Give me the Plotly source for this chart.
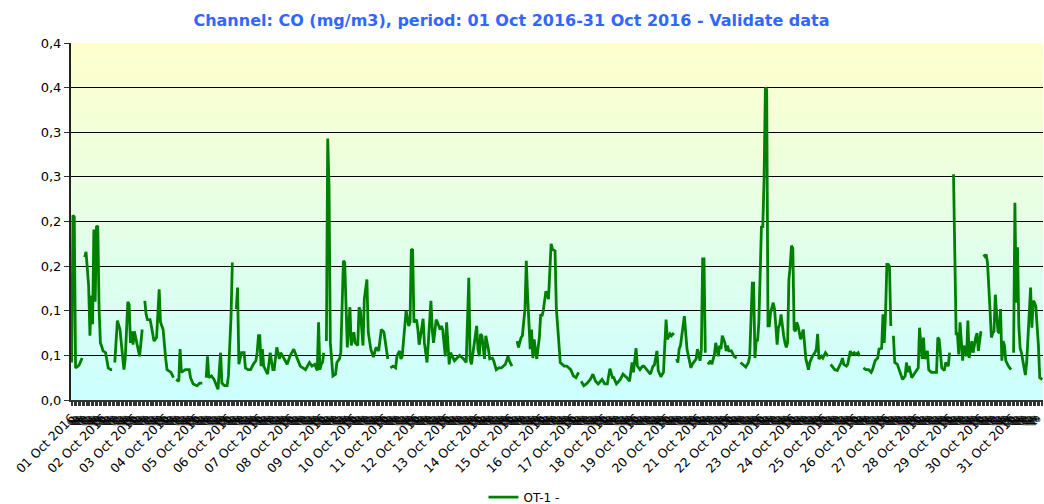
import plotly.graph_objects as go

# ---- data (hour index from 01 Oct 2016 00:00, CO in mg/m3; None = missing) ----
hours = [0, 1, 2, 3, 5, 6, 8, 9,
         10, 11, 13, 14, 15, 16, 17, 18, 19, 20, 21, 22, 23, 24, 26, 28, 30, 31, 32,
         33, 35, 37, 40, 41, 43, 44, 45, 46, 47, 48, 50, 52, 54, 55,
         56, 57, 58, 60, 61, 63, 65, 67, 68, 70, 72, 73, 76, 78, 79,
         80, 82, 83, 84, 87, 90, 91, 93, 96, 98, 100, 101,
         103, 104, 105, 107, 109, 110, 112, 114, 115, 117, 119, 120, 122, 123, 124,
         126, 127, 128, 130, 132, 133, 135, 137, 139, 141, 142, 143,
         144, 145, 146, 147, 150, 152, 154, 155, 157, 159, 160, 163, 165, 167, 170,
         172, 175, 177, 179, 182, 184, 186, 188, 189, 190, 191, 192, 193, 194,
         195, 196, 197, 198, 200, 202, 203, 205, 206, 208, 209, 210, 211, 213, 214,
         216, 217, 219, 220, 221, 223, 224, 226, 227, 229, 231, 233, 235, 237, 239,
         240, 242, 243,
         244, 246, 248, 249, 251, 252, 253, 255, 256, 258, 259, 260, 261, 262, 264,
         265, 266, 268, 269, 270, 272, 273, 275, 276, 277, 279, 280, 282, 283, 284,
         286, 287, 289, 290, 293, 295, 297, 300, 302, 304, 305, 306, 308, 310, 311,
         312, 313, 314, 316, 317, 319, 320, 322, 323, 325, 327, 329, 332, 334, 335,
         337, 338,
         341, 342, 344, 345, 347, 348, 349, 351, 352, 353, 354, 355, 356, 358, 359,
         360, 361, 363, 365, 367, 368, 370, 371, 372, 374, 377, 379, 382, 384, 386,
         388, 389,
         390, 392, 394, 397, 399, 401, 403, 406, 408, 410, 412, 414, 415, 417, 420,
         422, 425, 427, 429, 430, 432, 433, 435, 437, 438, 440,
         443, 445, 446, 448, 449, 451, 453, 454, 455, 456, 458, 459, 461, 462,
         463, 464, 465, 466, 468, 469, 471, 472, 474, 475, 478, 479, 481, 482, 483,
         484, 485, 486,
         487, 489, 490, 492, 493, 495, 496, 497, 498, 500, 501, 502, 503, 505, 507,
         509, 510,
         512, 514, 516, 518, 519, 521, 522, 523, 524, 525, 526, 528, 529, 530, 531,
         532, 533, 534, 535, 537, 538, 539, 540, 541, 542, 543, 544, 545, 546, 547,
         548, 549, 550, 551, 552, 553, 554, 555, 556, 557, 558, 560, 561, 562, 564,
         565, 567, 569, 570, 571, 572, 574, 575, 577, 579, 580,
         581, 584, 586, 589, 590, 591, 593, 594, 596, 597, 599, 600, 602, 603, 604,
         606, 608, 610, 612, 613, 615, 617, 618, 620, 621, 622, 623, 624, 625, 626,
         627, 628,
         629, 630, 632, 633, 635, 636, 638, 639, 640, 641, 643, 645, 646, 648, 649,
         651, 652, 653, 655, 656, 658, 660, 662, 663, 664, 666, 668, 669, 671, 672,
         673,
         675, 677, 678, 679, 680, 682, 683, 685, 686, 687, 689, 690, 692, 693, 694,
         696, 697,
         698, 699, 700, 701, 703, 704, 705, 706, 707, 709, 710, 711, 712, 713, 714,
         715, 717, 719, 720,
         721, 722, 723, 724, 725, 726, 727, 729, 730, 731, 733, 734, 735, 736, 737,
         738, 740, 741, 743]

co = [0.042, 0.207, 0.205, 0.036, 0.038, 0.040, 0.047, None,
      0.160, 0.166, 0.128, 0.072, 0.117, 0.085, 0.191, 0.110, 0.194, 0.195, 0.102, 0.064, 0.060, 0.055, 0.053, 0.036, 0.034, 0.034, None,
      0.042, 0.089, 0.079, 0.034, 0.046, 0.110, 0.107, 0.064, 0.077, 0.062, 0.077, 0.061, 0.049, 0.079, None,
      0.111, 0.096, 0.090, 0.090, 0.083, 0.066, 0.070, 0.124, 0.087, 0.079, 0.046, 0.034, 0.031, 0.025, None,
      0.023, 0.021, 0.057, 0.031, 0.034, 0.034, 0.025, 0.018, 0.016, 0.019, 0.019, None,
      0.025, 0.049, 0.025, 0.027, 0.023, 0.019, 0.012, 0.053, 0.019, 0.016, 0.016, 0.027, 0.094, 0.154, None,
      0.102, 0.126, 0.040, 0.053, 0.053, 0.036, 0.034, 0.034, 0.040, 0.044, 0.053, 0.072,
      0.072, 0.038, 0.057, 0.038, 0.029, 0.053, 0.034, 0.034, 0.059, 0.046, 0.053, 0.046, 0.040, 0.049, 0.057,
      0.049, 0.038, 0.036, 0.034, 0.042, 0.038, 0.040, 0.033, 0.087, 0.034, 0.040, 0.042, 0.053, None,
      0.066, 0.293, 0.240, 0.064, 0.027, 0.029, 0.042, 0.046, 0.053, 0.156, 0.154, 0.094, 0.059, 0.104, 0.061,
      0.076, 0.064, 0.061, 0.104, 0.100, 0.061, 0.113, 0.135, 0.076, 0.057, 0.048, 0.059, 0.055, 0.079, 0.076,
      0.064, 0.046, None,
      0.036, 0.038, 0.036, 0.049, 0.055, 0.046, 0.049, 0.090, 0.100, 0.083, 0.087, 0.169, 0.168, 0.087, 0.090,
      0.079, 0.062, 0.081, 0.091, 0.064, 0.042, 0.064, 0.111, 0.079, 0.064, 0.090, 0.087, 0.079, 0.083, 0.079,
      0.049, 0.087, 0.040, 0.053, 0.044, 0.047, 0.050, 0.046, 0.042, 0.137, 0.046, 0.040, 0.059, 0.083, 0.057,
      0.049, 0.074, 0.072, 0.046, 0.072, 0.057, 0.046, 0.047, 0.044, 0.034, 0.036, 0.036, 0.040, 0.049, 0.044,
      0.038, None,
      0.066, 0.059, 0.070, 0.072, 0.102, 0.156, 0.117, 0.057, 0.079, 0.047, 0.068, 0.055, 0.046, 0.070, 0.096,
      0.094, 0.100, 0.122, 0.113, 0.175, 0.169, 0.167, 0.102, 0.083, 0.042, 0.038, 0.038, 0.034, 0.027, 0.025,
      0.031, None,
      0.021, 0.016, 0.018, 0.023, 0.029, 0.021, 0.018, 0.023, 0.018, 0.018, 0.035, 0.025, 0.025, 0.018, 0.023,
      0.029, 0.025, 0.021, 0.042, 0.031, 0.058, 0.038, 0.034, 0.038, 0.038, 0.034,
      0.029, 0.038, 0.039, 0.055, 0.033, 0.026, 0.031, 0.061, 0.090, 0.068, 0.074, 0.072, 0.075, None,
      0.046, 0.042, 0.057, 0.061, 0.083, 0.094, 0.057, 0.049, 0.036, 0.040, 0.046, 0.057, 0.044, 0.057, 0.158,
      0.158, 0.053, None,
      0.040, 0.044, 0.040, 0.051, 0.064, 0.049, 0.061, 0.057, 0.072, 0.064, 0.055, 0.061, 0.055, 0.055, 0.049,
      0.047, None,
      0.042, 0.040, 0.037, 0.042, 0.049, 0.131, 0.131, 0.047, 0.068, 0.066, 0.087, 0.195, 0.193, 0.247, 0.350,
      0.348, 0.083, 0.083, 0.098, 0.109, 0.102, 0.083, 0.062, 0.081, 0.085, 0.096, 0.081, 0.072, 0.064, 0.059,
      0.064, 0.135, 0.150, 0.173, 0.170, 0.079, 0.077, 0.087, 0.083, 0.075, 0.068, 0.079, 0.061, 0.046, 0.034,
      0.042, 0.049, 0.053, 0.057, 0.074, 0.046, 0.049, 0.047, 0.053, 0.049, None,
      0.040, 0.034, 0.033, 0.042, 0.047, 0.040, 0.038, 0.040, 0.055, 0.051, 0.053, 0.051, 0.053, 0.049, None,
      0.036, 0.034, 0.034, 0.031, 0.034, 0.044, 0.047, 0.057, 0.058, 0.096, 0.064, 0.098, 0.152, 0.152, 0.150,
      0.083, None,
      0.072, 0.042, 0.040, 0.036, 0.029, 0.023, 0.027, 0.042, 0.031, 0.038, 0.025, 0.029, 0.031, 0.036, 0.081,
      0.046, 0.070, 0.046, 0.055, 0.034, 0.031, 0.031, 0.031, 0.070, 0.068, 0.036, 0.033, 0.042, 0.038, 0.053,
      None,
      0.253, 0.074, 0.074, 0.051, 0.087, 0.044, 0.061, 0.049, 0.089, 0.047, 0.066, 0.053, 0.070, 0.075, 0.055,
      0.077, None,
      0.163, 0.161, 0.163, 0.154, 0.100, 0.070, 0.075, 0.077, 0.118, 0.077, 0.075, 0.102, 0.044, 0.066, 0.061,
      0.044, 0.038, 0.034, None,
      0.053, 0.221, 0.109, 0.171, 0.083, 0.058, 0.053, 0.034, 0.028, 0.042, 0.109, 0.126, 0.081, 0.111, 0.109,
      0.105, 0.061, 0.025, 0.023]

y_ticks = [0.0, 0.05, 0.10, 0.15, 0.20, 0.25, 0.30, 0.35, 0.40]
y_tick_labels = ["0,0", "0,1", "0,1", "0,2", "0,2", "0,3", "0,3", "0,4", "0,4"]

n_days = 31
day_labels = ["%02d Oct 2016" % d for d in range(1, n_days + 1)]
hour_labels = ["%02d" % h for h in range(24)]

# ---- axis tick labels: date at midnight, hour otherwise ----
x_tickvals = list(range(n_days * 24))
x_ticktext = []
for d in range(n_days):
    for h in range(24):
        if h == 0:
            x_ticktext.append(day_labels[d])
        else:
            x_ticktext.append('<span style="font-size:8px">' + hour_labels[h] + '</span>')

fig = go.Figure()

# background vertical gradient (light cyan bottom -> light yellow top)
n_bands = 90
top_rgb = (255, 255, 204)
bot_rgb = (204, 255, 255)
y_lo, y_hi = 0.0, 0.4
for i in range(n_bands):
    t = (i + 0.5) / n_bands
    r = round(bot_rgb[0] + (top_rgb[0] - bot_rgb[0]) * t)
    g = round(bot_rgb[1] + (top_rgb[1] - bot_rgb[1]) * t)
    b = round(bot_rgb[2] + (top_rgb[2] - bot_rgb[2]) * t)
    fig.add_shape(type="rect", xref="paper", yref="y", x0=0, x1=1,
                  y0=y_lo + (y_hi - y_lo) * i / n_bands,
                  y1=y_lo + (y_hi - y_lo) * (i + 1) / n_bands + 0.0005,
                  fillcolor="rgb(%d,%d,%d)" % (r, g, b), line_width=0, layer="below")

fig.add_trace(go.Scatter(x=hours, y=co, mode="lines", name="OT-1 -",
                         line=dict(color="#008000", width=2.8),
                         connectgaps=False))

W, H = 1044, 504
fig.update_layout(
    width=W, height=H,
    template="none",
    paper_bgcolor="white",
    plot_bgcolor="rgba(0,0,0,0)",
    margin=dict(l=71, r=1, t=43, b=104, autoexpand=False),
    title=dict(text="<b>Channel: CO (mg/m3), period: 01 Oct 2016-31 Oct 2016 - Validate data</b>",
               font=dict(family="DejaVu Sans", size=16, color="#3366FF"),
               x=511.5 / W, xanchor="center", xref="container",
               y=1 - 20 / H, yanchor="middle", yref="container"),
    showlegend=True,
    legend=dict(orientation="h", x=0.466, xanchor="center", y=-0.272, yanchor="middle",
                font=dict(family="DejaVu Sans", size=12, color="#000"),
                bgcolor="rgba(0,0,0,0)"),
    font=dict(family="DejaVu Sans", size=12, color="#000"),
)

fig.update_xaxes(range=[-0.5, n_days * 24 - 0.5], tickmode="array",
                 tickvals=x_tickvals, ticktext=x_ticktext, tickangle=-45,
                 tickfont=dict(family="DejaVu Sans", size=12.5, color="#000"),
                 ticks="outside", ticklen=4, tickcolor="#333", tickwidth=1,
                 ticklabelstandoff=0,
                 showline=True, linecolor="#333", linewidth=2, mirror=False,
                 showgrid=False, zeroline=False, automargin=False)

fig.update_yaxes(range=[0, 0.4], tickmode="array", tickvals=y_ticks, ticktext=y_tick_labels,
                 tickfont=dict(family="DejaVu Sans", size=13, color="#000"),
                 ticks="outside", ticklen=5, tickcolor="#333",
                 showline=True, linecolor="#222", linewidth=2,
                 showgrid=True, gridcolor="#000", gridwidth=1,
                 zeroline=False, automargin=False)

fig.write_html("out.html",
               config={"displayModeBar": False},
               post_script="document.body.style.margin='0';document.body.style.overflow='hidden';")
